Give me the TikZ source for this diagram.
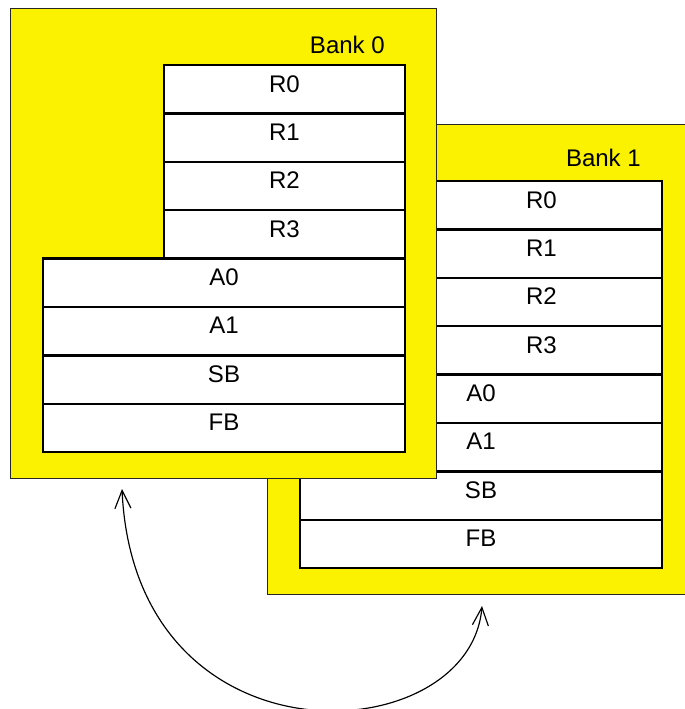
\documentclass[tikz,border=0pt]{standalone}
\usepackage{fontspec}
\setmainfont{Liberation Sans}
\usetikzlibrary{arrows.meta, positioning}
\definecolor{bankyellow}{HTML}{FAF200}

\begin{document}
\begin{tikzpicture}[x=0.03cm, y=-0.03cm,
  bank/.style={draw=black!85, line width=0.8pt, fill=bankyellow},
  banklabel/.style={anchor=east, inner sep=0pt, font=\fontsize{20.5}{24}\selectfont},
  reg/.style={draw, line width=2pt, fill=white, inner sep=0pt,
              minimum width=7.23cm, minimum height=1.452cm, text depth=0.33cm,
              font=\fontsize{20.5}{24}\selectfont},
  widereg/.style={reg, minimum width=10.86cm}
]
  \clip (0,0) rectangle (685,709);

  % Bank 1 (behind)
  \draw[bank] (267,124) rectangle (693,594);
  \node[banklabel] (lbl1) at (641,158) {Bank 1};
  \node[reg] (b1r0) at (541.5,205.2) {R0};
  \node[reg] (b1r1) at (541.5,253.6) {R1};
  \node[reg] (b1r2) at (541.5,302) {R2};
  \node[reg] (b1r3) at (541.5,350.4) {R3};
  \node[widereg] (b1a0) at (481,398.8) {A0};
  \node[widereg] (b1a1) at (481,447.2) {A1};
  \node[widereg] (b1sb) at (481,495.6) {SB};
  \node[widereg] (b1fb) at (481,544) {FB};

  % Bank 0 (front)
  \draw[bank] (10,8) rectangle (436,478);
  \node[banklabel] (lbl0) at (385,45) {Bank 0};
  \node[reg] (b0r0) at (284.5,89.2) {R0};
  \node[reg] (b0r1) at (284.5,137.6) {R1};
  \node[reg] (b0r2) at (284.5,186) {R2};
  \node[reg] (b0r3) at (284.5,234.4) {R3};
  \node[widereg] (b0a0) at (224,282.8) {A0};
  \node[widereg] (b0a1) at (224,331.2) {A1};
  \node[widereg] (b0sb) at (224,379.6) {SB};
  \node[widereg] (b0fb) at (224,428) {FB};

  % switching arrow
  \coordinate (tip0) at (122,489);
  \coordinate (tip1) at (482,606);
  \draw[{Straight Barb[length=0.54cm, width=0.48cm]}-{Straight Barb[length=0.54cm, width=0.48cm]}, line width=1pt]
    (tip0) .. controls (135,772) and (470,752) .. (tip1);
\end{tikzpicture}
\end{document}
